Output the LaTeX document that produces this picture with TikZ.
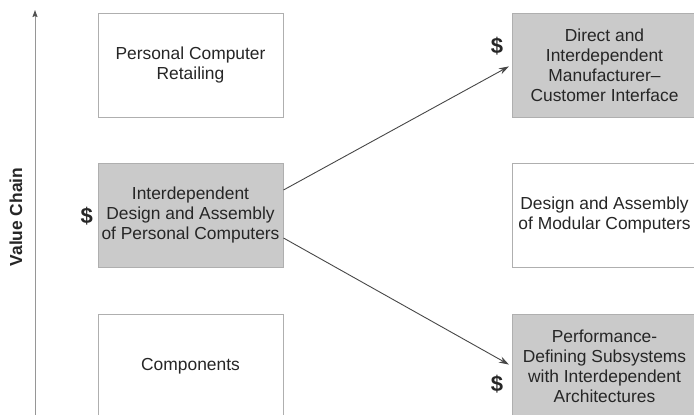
\documentclass[tikz,border=0pt]{standalone}
\usepackage{fontspec}
\setmainfont{Liberation Sans}
\usetikzlibrary{arrows.meta}
\definecolor{boxline}{RGB}{175,175,175}
\definecolor{boxfill}{RGB}{202,202,202}
\definecolor{ink}{RGB}{38,38,38}
\definecolor{axiscol}{RGB}{150,150,150}
\tikzset{
  stage/.style={draw=boxline, line width=1pt, fill=white, minimum width=185pt,
    minimum height=104pt, inner sep=0pt, align=center, text=ink,
    font=\fontsize{17.4}{20}\selectfont},
  profit/.style={stage, fill=boxfill},
  money/.style={text=ink, font=\fontsize{22}{22}\selectfont\bfseries, inner sep=0pt},
  migrate/.style={draw=ink!85, line width=0.9pt, shorten >=3pt, -{Stealth[length=10pt,width=6.5pt]}}
}
\begin{document}
\begin{tikzpicture}[x=1pt,y=-1pt]
\useasboundingbox (0,0) rectangle (694,415);
\clip (0,0) rectangle (694,415);
\fill[white] (0,0) rectangle (694,415);

% value chain axis
\coordinate (axbot) at (35,420);
\coordinate (axtop) at (35,10);
\draw[axiscol, line width=1pt, -{Stealth[length=7pt,width=5pt,inset=1pt,color=ink!80,fill=ink!80]}] (axbot) -- (axtop);
\node[rotate=90, text=ink, font=\fontsize{17.4}{17.4}\selectfont\bfseries] (vc) at (16,217) {Value Chain};

% integrated PC industry (left column)
\node[stage]  (retail) at (190.5,65)  {Personal Computer\\Retailing};
\node[profit] (mid)    at (190.5,215) {Interdependent\\Design and Assembly\\of Personal Computers};
\node[stage]  (comp)   at (190.5,366) {Components};

% modular PC industry (right column)
\node[profit] (tr) at (604.5,65)  {Direct and\\Interdependent\\Manufacturer--\\Customer Interface};
\node[stage]  (mr) at (604.5,215) {Design and Assembly\\of Modular Computers};
\node[profit] (br) at (604.5,366) {Performance-\\Defining Subsystems\\with Interdependent\\Architectures};

% where the money is made
\node[money, anchor=east] (d1) at (93,216) {\$};
\node[money] (d2) at (497,46)  {\$};
\node[money] (d3) at (497,384) {\$};

% migration of profits
\draw[migrate] ([yshift=25pt]mid.east) -- (tr.west);
\draw[migrate] ([yshift=-23pt]mid.east) -- (br.west);
\end{tikzpicture}
\end{document}
